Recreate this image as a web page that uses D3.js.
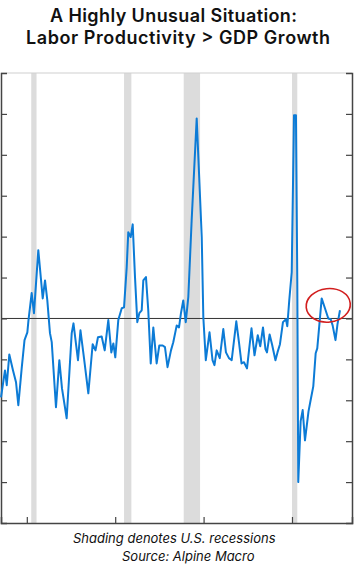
<!DOCTYPE html>
<html>
<head>
<meta charset="utf-8">
<script src="https://cdn.jsdelivr.net/npm/d3@7"></script>
<style>
  body { margin: 0; background: #fff; }
  svg { display: block; }
</style>
</head>
<body>
<div id="chart"></div>
<script>
// Labor productivity minus GDP growth (quarter dates as decimal years)
const years = [1987.08, 1987.53, 1987.73, 1988.02, 1988.44, 1988.78, 1989.04, 1989.42, 1989.74, 1990.06,
  1990.19, 1990.55, 1990.81, 1991.30, 1991.80, 1992.06, 1992.32, 1992.62, 1992.82, 1993.30,
  1993.68, 1993.98, 1994.51, 1995.08, 1995.28, 1995.79, 1996.07, 1996.47, 1996.96, 1997.45,
  1997.77, 1998.05, 1998.47, 1998.81, 1999.22, 1999.56, 1999.79, 2000.01, 2000.35, 2000.74,
  2001.00, 2001.30, 2001.48, 2001.75, 2001.98, 2002.24, 2002.50, 2002.73, 2003.00, 2003.18,
  2003.48, 2003.74, 2004.02, 2004.31, 2004.69, 2004.99, 2005.37, 2005.63, 2005.92, 2006.31,
  2006.57, 2006.96, 2007.22, 2007.44, 2007.70, 2007.98, 2008.27, 2008.65, 2009.22, 2009.79,
  2009.97, 2010.25, 2010.67, 2011.01, 2011.23, 2011.48, 2011.83, 2012.23, 2012.53, 2012.87,
  2013.18, 2013.70, 2014.00, 2014.29, 2014.57, 2014.91, 2015.42, 2015.76, 2016.13, 2016.41,
  2016.72, 2017.00, 2017.17, 2017.47, 2017.74, 2018.13, 2018.36, 2018.64, 2018.98, 2019.32,
  2019.47, 2019.69, 2019.97, 2020.08, 2020.23, 2020.45, 2020.60, 2020.71, 2020.98, 2021.21,
  2021.47, 2021.87, 2022.15, 2022.41, 2022.68, 2022.86, 2023.09, 2023.36, 2023.73, 2024.11,
  2024.38, 2024.60, 2024.92, 2025.15, 2025.43];

const values = [-1.93, -1.27, -1.63, -0.88, -1.27, -1.56, -2.12, -1.22, -0.53, -0.34,
  -0.04, 0.62, 0.13, 1.67, 0.49, 0.93, 0.44, -0.36, -0.58, -2.17,
  -1.02, -1.71, -2.44, -0.36, -0.12, -1.02, -0.29, -0.97, -1.83, -0.63,
  -0.78, -0.46, -0.44, -0.78, -0.04, -0.83, -0.61, -0.95, -0.04, 0.25,
  0.27, 1.25, 2.11, 1.99, 2.30, 1.01, -0.09, 0.13, 0.20, 0.93,
  1.01, 0.20, -1.10, -0.22, -1.10, -0.66, -0.66, -0.70, -1.19, -0.78,
  -0.58, -0.17, -0.22, 0.13, 0.44, -0.09, 0.52, 2.40, 4.89, 1.99,
  0.03, -1.02, -0.34, -1.02, -1.14, -0.78, -0.97, -0.26, -0.83, -0.97,
  -1.02, -0.07, -0.58, -1.10, -1.07, -1.22, -0.24, -0.90, -0.41, -0.68,
  -0.22, -0.75, -0.83, -0.39, -0.63, -1.02, -0.83, -0.63, -0.09, -0.02,
  -0.19, 0.44, 1.13, 2.77, 4.97, 4.97, 0.93, -4.00, -2.51, -2.24,
  -2.98, -2.27, -1.95, -1.66, -0.85, -0.73, -0.17, 0.49, 0.25, 0.00,
  -0.02, -0.17, -0.53, -0.14, 0.20];

// US recessions
const recessionStart = [1990.5, 2001.0, 2007.75, 2020.0];
const recessionEnd = [1991.1, 2001.83, 2009.6, 2020.6];

const yTicks = [-4, -3, -2, -1, 0, 1, 2, 3, 4, 5];
const xTicks = [1990, 2000, 2010, 2020];

const width = 354;
const height = 570;
const plotLeft = 1, plotRight = 352, plotTop = 73, plotBottom = 523;

const svg = d3.select("#chart")
              .append("svg")
              .attr("width", width)
              .attr("height", height);

const x = d3.scaleLinear()
            .domain([1987.08, 2026.79])
            .range([plotLeft, plotRight]);

const y = d3.scaleLinear()
            .domain([-5, 6])
            .range([plotBottom, plotTop]);

// Title (wide grotesque in the original, stretched to its width)
const title = svg.append("g")
                 .attr("font-family", "Inter, 'Noto Sans', sans-serif")
                 .attr("font-weight", 600)
                 .attr("font-size", 18)
                 .attr("fill", "#111");
title.append("text").attr("x", 50).attr("y", 22)
     .attr("textLength", 247).attr("lengthAdjust", "spacing")
     .text("A Highly Unusual Situation:");
title.append("text").attr("x", 26).attr("y", 44)
     .attr("textLength", 304).attr("lengthAdjust", "spacing")
     .text("Labor Productivity > GDP Growth");

// Recession shading
svg.selectAll("rect.recession")
   .data(recessionStart)
   .join("rect")
   .attr("class", "recession")
   .attr("x", function(d) { return x(d); })
   .attr("width", function(d, i) { return x(recessionEnd[i]) - x(d); })
   .attr("y", plotTop)
   .attr("height", plotBottom - plotTop)
   .attr("fill", "#dcdcdc");

// Top border
svg.append("line")
   .attr("x1", plotLeft).attr("x2", plotRight)
   .attr("y1", plotTop).attr("y2", plotTop)
   .attr("stroke", "#cfcfcf")
   .attr("stroke-width", 1);

// Zero line
svg.append("line")
   .attr("x1", plotLeft).attr("x2", plotRight)
   .attr("y1", y(0)).attr("y2", y(0))
   .attr("stroke", "#333")
   .attr("stroke-width", 1);

// Axes with inward ticks
svg.append("g")
   .attr("transform", "translate(" + plotLeft + ",0)")
   .call(d3.axisRight(y).tickValues(yTicks).tickSize(6).tickFormat(""))
   .call(g => g.select(".domain").attr("stroke", "#444").attr("stroke-width", 1.5));

svg.append("g")
   .attr("transform", "translate(" + plotRight + ",0)")
   .call(d3.axisLeft(y).tickValues(yTicks).tickSize(6).tickFormat(""))
   .call(g => g.select(".domain").attr("stroke", "#444").attr("stroke-width", 1.5));

svg.append("g")
   .attr("transform", "translate(0," + plotBottom + ")")
   .call(d3.axisTop(x).tickValues(xTicks).tickSize(6).tickFormat(""))
   .call(g => g.select(".domain").attr("stroke", "#444").attr("stroke-width", 1.5));

svg.selectAll(".tick line").attr("stroke", "#444").attr("stroke-width", 1.2);

// Series line
const line = d3.line()
               .x(function(d, i) { return x(years[i]); })
               .y(function(d) { return y(d); });

svg.append("path")
   .datum(values)
   .attr("d", line)
   .attr("fill", "none")
   .attr("stroke", "#0c7bd6")
   .attr("stroke-width", 2)
   .attr("stroke-linejoin", "round");

// Red hand-drawn circle around the latest readings
const cx = x(2024.1), cy = y(0.32);
svg.append("ellipse")
   .attr("cx", cx)
   .attr("cy", cy)
   .attr("rx", x(2026.6) - x(2024.1))
   .attr("ry", y(0) - y(0.41))
   .attr("transform", "rotate(-6," + cx + "," + cy + ")")
   .attr("fill", "none")
   .attr("stroke", "#d21f1f")
   .attr("stroke-width", 1.6);

// Footnotes
const foot = svg.append("g")
                .attr("font-family", "Inter, 'Noto Sans', sans-serif")
                .attr("font-style", "italic")
                .attr("font-size", 13)
                .attr("fill", "#111");
foot.append("text").attr("x", 73).attr("y", 543).text("Shading denotes U.S. recessions");
foot.append("text").attr("x", 122).attr("y", 561).text("Source: Alpine Macro");
</script>
</body>
</html>
